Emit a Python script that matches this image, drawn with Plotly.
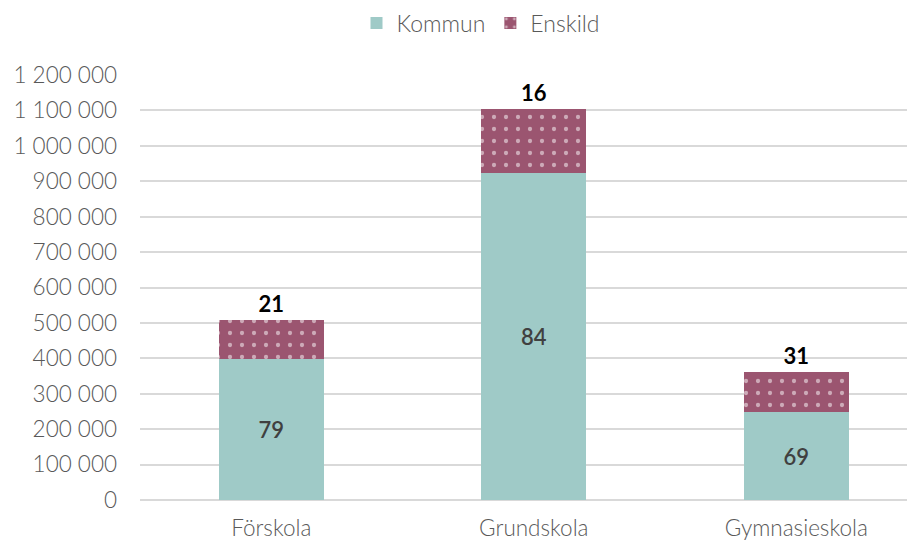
import plotly.graph_objects as go

categories = ["Förskola", "Grundskola", "Gymnasieskola"]
kommun = [398000, 923000, 248000]
enskild = [110000, 181000, 113000]
kommun_pct = ["79", "84", "69"]
enskild_pct = ["21", "16", "31"]
tick_vals = [0, 100000, 200000, 300000, 400000, 500000, 600000, 700000, 800000, 900000, 1000000, 1100000, 1200000]
tick_text = ["0", "100 000", "200 000", "300 000", "400 000", "500 000", "600 000", "700 000", "800 000", "900 000", "1 000 000", "1 100 000", "1 200 000"]

teal = "#9FCAC7"
maroon = "#9B5570"
light_font = "Lato"

fig = go.Figure()
fig.add_trace(go.Bar(
    x=categories, y=kommun, name="Kommun", marker=dict(color=teal, line=dict(width=0)),
    width=0.4, text=kommun_pct, textposition="inside", insidetextanchor="middle",
    textfont=dict(family="Lato", size=22, color="#404040", weight=600),
    hoverinfo="skip",
))
fig.add_trace(go.Bar(
    x=categories, y=enskild, name="Enskild",
    marker=dict(color=maroon, line=dict(width=0),
                pattern=dict(shape=".", fgcolor="white", bgcolor=maroon, size=12, solidity=0.1)),
    width=0.4, text=enskild_pct, textposition="outside",
    textfont=dict(family="Lato", size=22, color="#000000", weight=700),
    cliponaxis=False, hoverinfo="skip",
))

fig.update_layout(
    width=915, height=541, barmode="stack",
    margin=dict(l=132, r=8, t=67, b=49),
    paper_bgcolor="white", plot_bgcolor="white",
    font=dict(family=light_font, size=20, color="#595959", weight=300),
    showlegend=True,
    legend=dict(orientation="h", x=473 / 915, xref="container", xanchor="center",
                y=1 - 15 / 541, yref="container", yanchor="middle",
                font=dict(family=light_font, size=23, color="#595959", weight=300), itemwidth=30,
                traceorder="normal"),
    xaxis=dict(range=[-0.5, 2.452], showgrid=False, showline=False, ticks="", automargin=False,
               ticklabelstandoff=12,
               tickfont=dict(family=light_font, size=22.5, color="#595959", weight=300)),
    yaxis=dict(range=[0, 1200000], tickvals=tick_vals, ticktext=tick_text, automargin=False,
               showgrid=True, gridcolor="#D9D9D9", gridwidth=1.5, zeroline=True,
               zerolinecolor="#D9D9D9", zerolinewidth=1.5, ticks="", ticklabelstandoff=22,
               tickfont=dict(family=light_font, size=22.5, color="#595959", weight=300)),
)

fig.write_html("out.html")
